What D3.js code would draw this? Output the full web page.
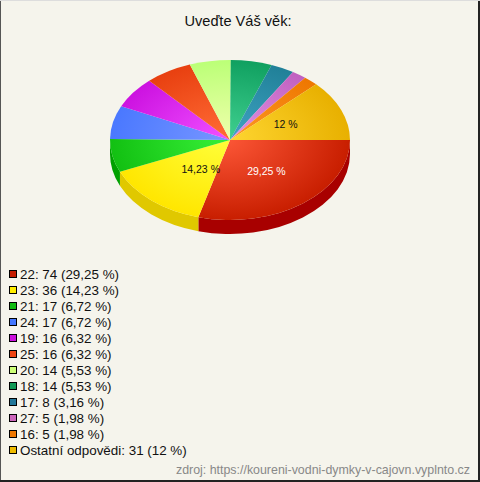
<!DOCTYPE html>
<html><head><meta charset="utf-8">
<script src="https://cdn.jsdelivr.net/npm/d3@7"></script>
<style>html,body{margin:0;padding:0;background:#f5f4ec;}svg{display:block;}</style>
</head><body>
<script>
const title = "Uveďte Váš věk:";
const categories = ["22","23","21","24","19","25","20","18","17","27","16","Ostatní odpovědi"];
const values = [74,36,17,17,16,16,14,14,8,5,5,31];
const percentLabels = ["29,25","14,23","6,72","6,72","6,32","6,32","5,53","5,53","3,16","1,98","1,98","12"];
const sliceLabelShown = [true,true,false,false,false,false,false,false,false,false,false,true];
const source = "zdroj: https://koureni-vodni-dymky-v-cajovn.vyplnto.cz";

const baseColors = ["#c81e00","#ffe600","#12c012","#4a78ff","#cc12e0","#e84010","#bbff77","#10a060","#208098","#c060c0","#ee7700","#e8b000"];
const lightColors = ["#ff5a3a","#ffff3a","#36ee36","#7494ff","#ee4cff","#ff6a34","#eeffaa","#40d090","#40a4c4","#e494e4","#ff9a26","#ffd834"];
const sideColors = ["#a80000","#e0c800","#00a000","#2a50d0","#9a00b0","#b82800","#99dd55","#007a40","#105870","#a04090","#c05800","#c89000"];
const legendColors = ["#c41c00","#ffee00","#11bb11","#4477ff","#cc11dd","#ee4411","#ccff77","#119955","#227799","#cc66bb","#ee7700","#eebb00"];

const W = 480, H = 482;
const cx = 230, cy = 140, rx = 120, ry = 80, depth = 14;
const FONT = "Liberation Sans, Arial, sans-serif";

const svg = d3.select("body").append("svg").attr("width", W).attr("height", H);
svg.append("rect").attr("x",0).attr("y",0).attr("width",W).attr("height",H).attr("fill","#f5f4ec");
// border
svg.append("line").attr("x1",0.5).attr("y1",0).attr("x2",0.5).attr("y2",H).attr("stroke","#555");
svg.append("line").attr("x1",W-1).attr("y1",0).attr("x2",W-1).attr("y2",H).attr("stroke","#222").attr("stroke-width",2);
svg.append("line").attr("x1",0).attr("y1",H-1).attr("x2",W).attr("y2",H-1).attr("stroke","#222").attr("stroke-width",2);
svg.append("line").attr("x1",0).attr("y1",0.5).attr("x2",W).attr("y2",0.5).attr("stroke","#ddd");

svg.append("text").attr("x",238).attr("y",26).attr("text-anchor","middle")
  .attr("font-family",FONT).attr("font-size",14.6).attr("fill","#111").text(title);

const pie = d3.pie().sort(null).startAngle(Math.PI/2).endAngle(Math.PI/2 + 2*Math.PI);
const arcs = pie(values);

const px = a => cx + rx*Math.sin(a);
const py = a => cy - ry*Math.cos(a);

const defs = svg.append("defs");
arcs.forEach((d,i) => {
  const g = defs.append("radialGradient").attr("id","g"+i)
    .attr("gradientUnits","userSpaceOnUse")
    .attr("cx",cx).attr("cy",cy).attr("r",rx).attr("fx",cx-10).attr("fy",cy-5)
    .attr("gradientTransform",`translate(${cx},${cy}) scale(1,${ry/rx}) translate(${-cx},${-cy})`);
  g.append("stop").attr("offset","0%").attr("stop-color",lightColors[i]);
  g.append("stop").attr("offset","100%").attr("stop-color",baseColors[i]);
});

// sides (front half: angles between PI/2 and 3PI/2)
const sideG = svg.append("g");
arcs.forEach((d,i) => {
  const s = Math.max(d.startAngle, Math.PI/2), e = Math.min(d.endAngle, 3*Math.PI/2);
  if (e <= s) return;
  const large = (e - s) > Math.PI ? 1 : 0;
  const p = `M${px(s)},${py(s)} A${rx},${ry} 0 ${large} 1 ${px(e)},${py(e)} L${px(e)},${py(e)+depth} A${rx},${ry} 0 ${large} 0 ${px(s)},${py(s)+depth} Z`;
  sideG.append("path").attr("d",p).attr("fill",sideColors[i]);
});

// top faces
const topG = svg.append("g");
arcs.forEach((d,i) => {
  const s = d.startAngle, e = d.endAngle;
  const large = (e - s) > Math.PI ? 1 : 0;
  const p = `M${cx},${cy} L${px(s)},${py(s)} A${rx},${ry} 0 ${large} 1 ${px(e)},${py(e)} Z`;
  topG.append("path").attr("d",p).attr("fill",`url(#g${i})`);
});

// slice labels
arcs.forEach((d,i) => {
  if (!sliceLabelShown[i]) return;
  const m = (d.startAngle + d.endAngle)/2;
  const r = 0.5;
  topG.append("text").attr("x", cx + r*rx*Math.sin(m) + (i===1?10:0)).attr("y", cy - r*ry*Math.cos(m) + 3)
    .attr("text-anchor","middle").attr("font-family",FONT).attr("font-size",10.5)
    .attr("fill", i===0 ? "#fff" : "#111").text(percentLabels[i] + " %");
});

// legend
const lg = svg.append("g");
categories.forEach((c,i) => {
  const y = 274 + i*16;
  lg.append("rect").attr("x",9.5).attr("y",y-3.5).attr("width",7).attr("height",7)
    .attr("fill",legendColors[i]).attr("stroke","#000").attr("stroke-width",1);
  lg.append("text").attr("x",20).attr("y",y+5).attr("font-family",FONT)
    .attr("font-size",13.4).attr("fill","#111").text(`${c}: ${values[i]} (${percentLabels[i]} %)`);
});

svg.append("text").attr("x",470).attr("y",474).attr("text-anchor","end")
  .attr("font-family",FONT).attr("font-size",12.4).attr("fill","#888").text(source);
</script>
</body></html>
